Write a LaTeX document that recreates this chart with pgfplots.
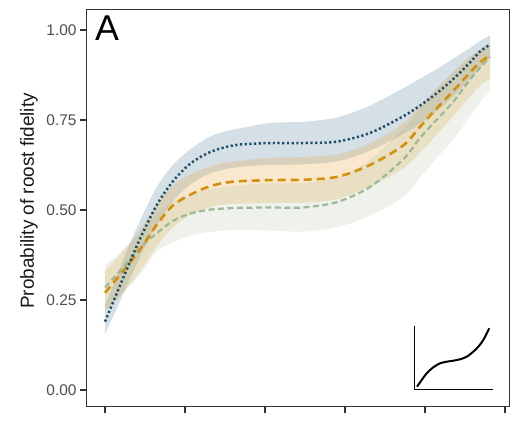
\documentclass[border=0pt]{standalone}
\usepackage{fontspec}
\setmainfont{Liberation Sans}
\usepackage{pgfplots}
\usepgfplotslibrary{fillbetween}
\pgfplotsset{compat=1.18}
\usepackage{pgfplotstable}

\definecolor{bline}{HTML}{1F4E6B}
\definecolor{bband}{HTML}{4A7A95}
\definecolor{oline}{HTML}{D4900A}
\definecolor{oband}{HTML}{E8A33A}
\definecolor{gline}{HTML}{9DB89A}
\definecolor{gband}{HTML}{A8BC9A}
\definecolor{framec}{HTML}{333333}
\definecolor{ticklab}{HTML}{4D4D4D}

\pgfplotstableread{
x      bl    bu    b     ol    ou    o     gl    gu    g
0      0.155 0.235 0.19  0.22  0.33  0.27  0.22  0.345 0.285
0.225  0.265 0.36  0.31  0.27  0.385 0.33  0.27  0.39  0.34
0.4375 0.37  0.47  0.42  0.33  0.445 0.39  0.32  0.44  0.395
0.65   0.46  0.565 0.515 0.40  0.515 0.46  0.385 0.49  0.436
0.85   0.525 0.625 0.58  0.452 0.568 0.513 0.41  0.525 0.47
1.0625 0.57  0.668 0.628 0.485 0.598 0.542 0.428 0.545 0.49
1.275  0.598 0.70  0.657 0.505 0.618 0.563 0.438 0.556 0.50
1.475  0.612 0.717 0.673 0.515 0.63  0.575 0.443 0.563 0.504
1.6875 0.62  0.727 0.682 0.518 0.637 0.58  0.445 0.568 0.506
2.0625 0.625 0.742 0.686 0.52  0.645 0.583 0.443 0.575 0.507
2.475  0.627 0.745 0.686 0.52  0.647 0.584 0.44  0.576 0.507
2.9    0.635 0.757 0.69  0.53  0.655 0.592 0.452 0.59  0.522
3.3125 0.665 0.79  0.714 0.565 0.685 0.625 0.485 0.64  0.564
3.725  0.71  0.838 0.76  0.615 0.74  0.679 0.535 0.725 0.64
3.9375 0.74  0.865 0.79  0.66  0.79  0.731 0.59  0.78  0.70
4.15   0.775 0.892 0.825 0.71  0.84  0.783 0.645 0.835 0.752
4.35   0.815 0.92  0.863 0.76  0.885 0.83  0.695 0.88  0.80
4.5625 0.865 0.95  0.91  0.815 0.925 0.882 0.76  0.925 0.862
4.6875 0.895 0.97  0.94  0.845 0.945 0.91  0.80  0.945 0.895
4.8125 0.925 0.985 0.96  0.865 0.962 0.93  0.83  0.965 0.925
}\data

\pgfplotstableread{
x    y
3    2.3
7.7  9
12.7 15.7
19.3 21.7
26   25.7
32.7 27.3
39.3 28.3
46   29.7
52.7 32.3
59.3 37.3
64.3 42.3
69.3 49
75.3 60.7
}\inset

\begin{document}
\begin{tikzpicture}
\path (0bp,0bp) rectangle (528bp,426bp);
\begin{axis}[
  at={(86bp,19bp)}, anchor=south west,
  width=423bp, height=397bp, scale only axis,
  xmin=-0.2375, xmax=5.05, ymin=-0.0472, ymax=1.0556,
  xtick={0,1,2,3,4,5}, xticklabels={},
  ytick={0,0.25,0.5,0.75,1},
  tick pos=left, tick align=outside,
  major tick length=6bp,
  tick style={draw=framec, line width=1.4bp},
  axis line style={draw=framec, line width=1bp},
  /pgf/number format/assume math mode=true,
  yticklabel style={/pgf/number format/.cd, fixed, fixed zerofill, precision=2,
    /tikz/.cd, font=\fontsize{15.5}{18}\selectfont, text=ticklab},
  ylabel={Probability of roost fidelity},
  every axis y label/.style={at={(axis description cs:-0.135,0.519)}, rotate=90, anchor=center,
    font=\fontsize{19}{22}\selectfont, text=black!90},
]
\addplot[draw=none, smooth, name path=bU] table[x=x,y=bu]{\data};
\addplot[draw=none, smooth, name path=bL] table[x=x,y=bl]{\data};
\addplot[draw=none, smooth, name path=oU] table[x=x,y=ou]{\data};
\addplot[draw=none, smooth, name path=oL] table[x=x,y=ol]{\data};
\addplot[draw=none, smooth, name path=gU] table[x=x,y=gu]{\data};
\addplot[draw=none, smooth, name path=gL] table[x=x,y=gl]{\data};
\addplot[fill=bband, fill opacity=0.24, draw=none] fill between[of=bU and bL];
\addplot[fill=oband, fill opacity=0.25, draw=none] fill between[of=oU and oL];
\addplot[fill=gband, fill opacity=0.2, draw=none] fill between[of=gU and gL];
\addplot[gline, smooth, line width=2.2bp, dash pattern=on 6bp off 3.5bp] table[x=x,y=g]{\data};
\addplot[oline, smooth, line width=2.6bp, dash pattern=on 8bp off 5bp] table[x=x,y=o]{\data};
\addplot[bline, smooth, line width=2.5bp, dash pattern=on 2.2bp off 2.5bp] table[x=x,y=b]{\data};
\node[anchor=north west, inner sep=0pt, font=\fontsize{36}{38}\selectfont] at (axis description cs:0.021,0.985) {A};
\end{axis}
\begin{axis}[
  at={(414bp,37bp)}, anchor=south west,
  width=79bp, height=63bp, scale only axis,
  xmin=0, xmax=79, ymin=0, ymax=63,
  axis lines=left, axis line style={-, draw=black, line width=1bp},
  ticks=none, clip=false,
]
\addplot[black, smooth, line width=2bp] table[x=x,y=y]{\inset};
\end{axis}
\end{tikzpicture}
\end{document}
